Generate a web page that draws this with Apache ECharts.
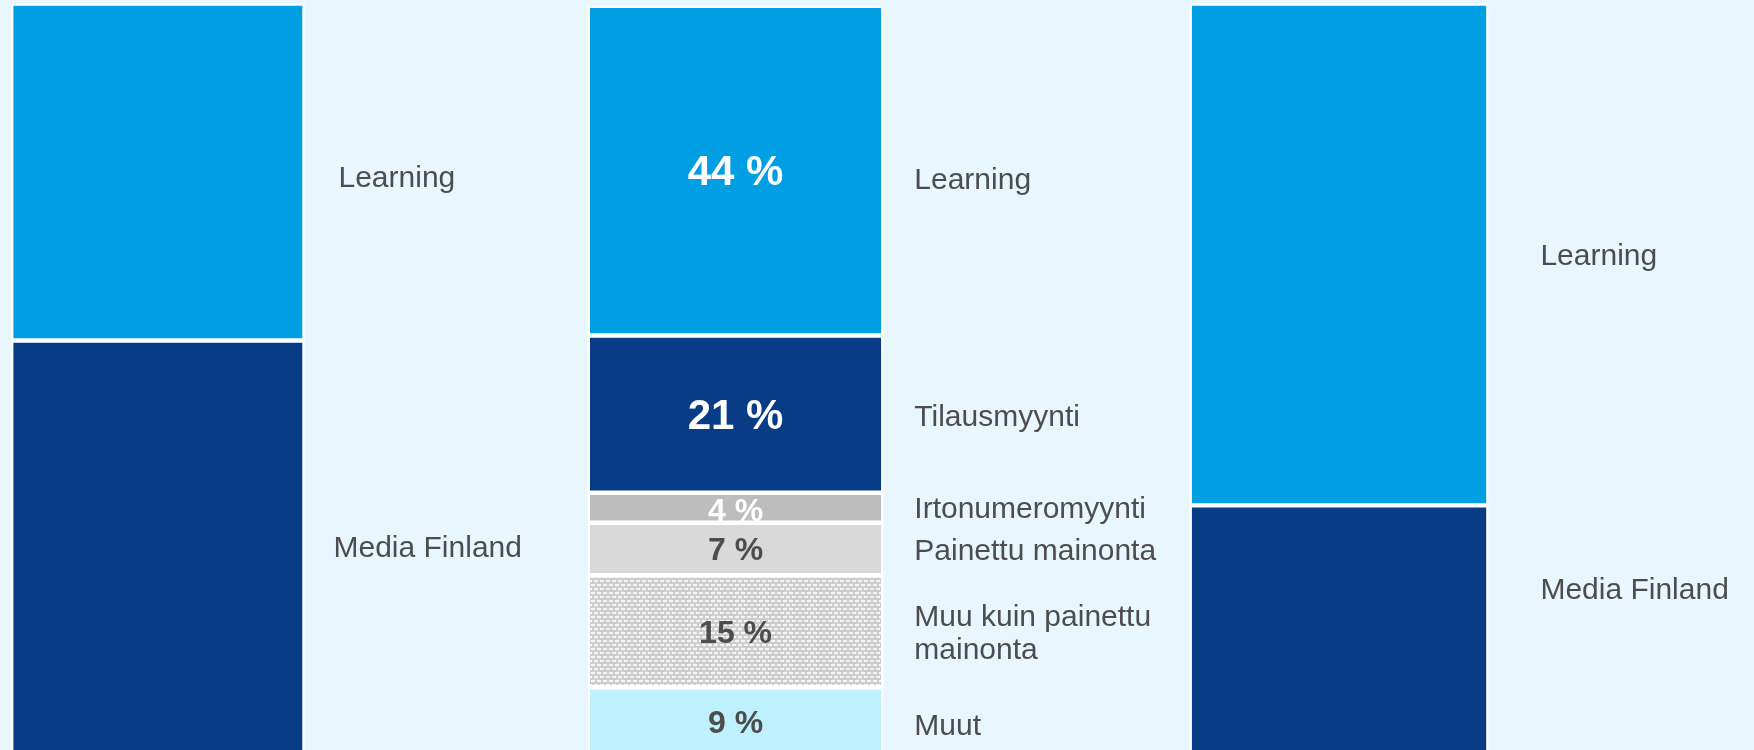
<!DOCTYPE html>
<html>
<head>
<meta charset="utf-8">
<script src="https://cdn.jsdelivr.net/npm/echarts@6/dist/echarts.min.js"></script>
<style>
  html, body { margin: 0; padding: 0; background: #e8f6fd; }
  #chart { width: 1754px; height: 750px; }
</style>
</head>
<body>
<div id="chart"></div>
<script>
// segment split, left and right columns (share of total, %)
var segmentNames = ['Learning', 'Media Finland'];
var leftShares = [45, 55];
var rightShares = [67, 33];

// revenue streams, middle column (%)
var streamNames = ['Learning', 'Tilausmyynti', 'Irtonumeromyynti', 'Painettu mainonta', 'Muu kuin painettu\nmainonta', 'Muut'];
var streamShares = [44, 21, 4, 7, 15, 9];

// styling
var segmentColors = ['#009fe3', '#083c86'];
var streamColors = ['#009fe3', '#083c86', '#bdbdbd', '#d9d9d9', '#cdcdcd', '#bff0fd'];
var valueColors = ['#fff', '#fff', '#fff', '#4d4d4d', '#4d4d4d', '#4d4d4d'];
var valueSizes = [42, 42, 32, 32, 32, 32];
// label nudges [dx, dy] (the text was placed by hand in the original)
var leftShift = [[5, 7], [0, 2]];
var rightShift = [[0, 2], [0, -38]];
var streamShift = [[0, 10], [0, 4], [0, 2], [0, 3], [0, 3], [0, 6]];
var valueShift = [[0, 3], [0, 3], [0, 4], [0, 2], [0, 3], [0, 3]];

var textFont = 'Liberation Sans, Arial, Helvetica, sans-serif';
var hatch = {
    symbol: 'rect',
    symbolSize: 1,
    symbolKeepAspect: false,
    color: 'rgba(245,245,245,1)',
    dashArrayX: [[4, 2], [1, 2, 3, 0]],
    dashArrayY: [2, 2],
    rotation: 0
};

function nameLabel(dist, shift) {
    return {
        show: true,
        position: 'right',
        distance: dist,
        offset: shift,
        color: '#4d4d4d',
        fontFamily: textFont,
        fontSize: 30,
        lineHeight: 33,
        align: 'left',
        formatter: '{a}'
    };
}

function stackSeries(axisIndex, stackId, names, values, colors, labelFor, transparent) {
    return names.map(function (name, i) {
        var style = {
            color: transparent ? 'rgba(0,0,0,0)' : colors[i],
            borderColor: transparent ? 'rgba(0,0,0,0)' : '#fff',
            borderWidth: transparent ? 0 : 2.2
        };
        if (!transparent && i === 4 && names === streamNames) {
            style.decal = hatch;
        }
        return {
            type: 'bar',
            name: name,
            stack: stackId,
            xAxisIndex: axisIndex,
            yAxisIndex: axisIndex,
            barWidth: '100%',
            barCategoryGap: '0%',
            silent: true,
            itemStyle: style,
            label: labelFor(i),
            data: [values[i]]
        };
    });
}

var grids = [
    { left: 11.2, width: 293.3, top: 3.5, height: 749, outerBoundsMode: 'none' },
    { left: 587.8, width: 295.5, top: 5.9, height: 749, outerBoundsMode: 'none' },
    { left: 587.8, width: 295.5, top: 5.9, height: 749, outerBoundsMode: 'none' },
    { left: 1189.7, width: 298.7, top: 3.5, height: 749, outerBoundsMode: 'none' }
];

var xAxes = grids.map(function (g, i) {
    return { type: 'category', gridIndex: i, data: ['x'], show: false };
});
var yAxes = grids.map(function (g, i) {
    return { type: 'value', gridIndex: i, min: 0, max: 100, inverse: true, show: false };
});

var series = [].concat(
    stackSeries(0, 'left', segmentNames, leftShares, segmentColors, function (i) {
        return nameLabel(29, leftShift[i]);
    }, false),
    stackSeries(1, 'mid', streamNames, streamShares, streamColors, function (i) {
        return {
            show: true,
            position: 'inside',
            offset: valueShift[i],
            color: valueColors[i],
            fontFamily: textFont,
            fontWeight: 'bold',
            fontSize: valueSizes[i],
            formatter: '{c} %'
        };
    }, false),
    stackSeries(2, 'midNames', streamNames, streamShares, streamColors, function (i) {
        return nameLabel(31, streamShift[i]);
    }, true),
    stackSeries(3, 'right', segmentNames, rightShares, segmentColors, function (i) {
        return nameLabel(52, rightShift[i]);
    }, false)
);

var chart = echarts.init(document.getElementById('chart'));
chart.setOption({
    backgroundColor: '#e8f6fd',
    animation: false,
    grid: grids,
    xAxis: xAxes,
    yAxis: yAxes,
    series: series
});
</script>
</body>
</html>
